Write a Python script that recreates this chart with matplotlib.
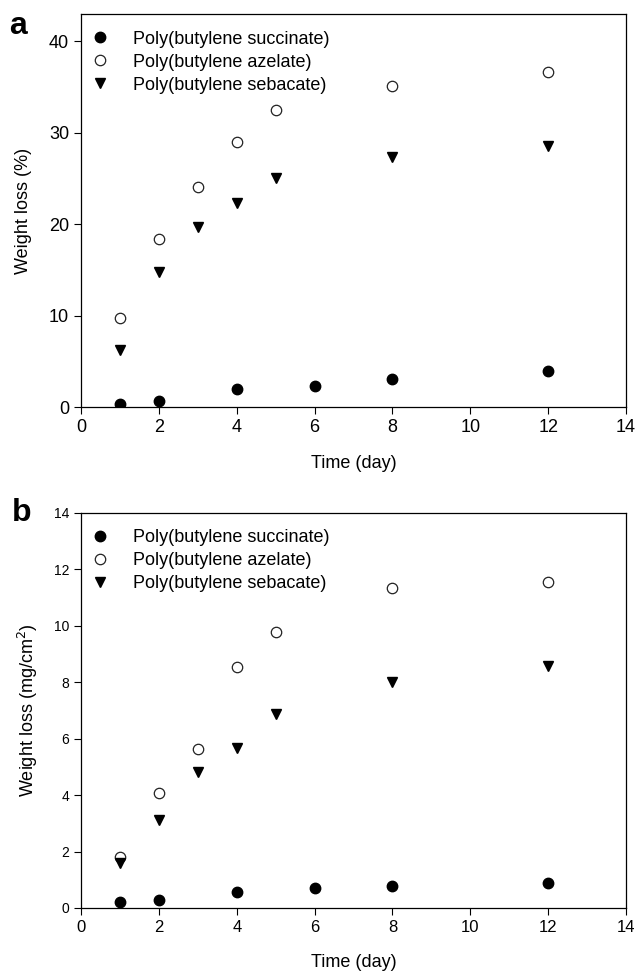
import matplotlib
matplotlib.use("Agg")
import matplotlib.pyplot as plt

plt.rcParams['font.family'] = ['Liberation Sans', 'DejaVu Sans']

series_names = ["Poly(butylene succinate)", "Poly(butylene azelate)",
                "Poly(butylene sebacate)"]

# sampling days
days_pbs = [1, 2, 4, 6, 8, 12]
days_other = [1, 2, 3, 4, 5, 8, 12]

# weight loss in percent
pct_pbs = [0.35, 0.65, 1.95, 2.25, 3.05, 3.9]
pct_pbaz = [9.7, 18.4, 24.1, 29.0, 32.5, 35.1, 36.7]
pct_pbse = [6.2, 14.8, 19.7, 22.3, 25.1, 27.4, 28.6]

# weight loss per unit area
mg_pbs = [0.21, 0.30, 0.57, 0.72, 0.77, 0.89]
mg_pbaz = [1.80, 4.07, 5.63, 8.54, 9.78, 11.34, 11.55]
mg_pbse = [1.60, 3.13, 4.82, 5.67, 6.88, 8.0, 8.58]

x_ticks = [0, 2, 4, 6, 8, 10, 12, 14]

fig = plt.figure(figsize=(6.36, 9.71), dpi=100)
ax1 = fig.add_axes([0.1274, 0.5808, 0.857, 0.4048])
ax2 = fig.add_axes([0.1274, 0.0649, 0.857, 0.4068])


def draw(ax, y_pbs, y_pbaz, y_pbse, anchor_y):
    ax.plot(days_pbs, y_pbs, 'o', ms=7.5, color='black', mec='black',
            label=series_names[0])
    ax.plot(days_other, y_pbaz, 'o', ms=7.5, mfc='white', mec='#222222',
            mew=0.9, label=series_names[1])
    ax.plot(days_other, y_pbse, 'v', ms=7.5, color='black',
            label=series_names[2])
    ax.set_xlim(0, 14)
    ax.set_xticks(x_ticks)
    ax.tick_params(direction='out', length=5, width=0.8)
    for s in ax.spines.values():
        s.set_linewidth(0.9)
    ax.set_xlabel("Time (day)", fontsize=13, labelpad=14)
    ax.legend(loc='upper left', bbox_to_anchor=(0.0, anchor_y),
              frameon=False, fontsize=13, handletextpad=1.4,
              labelspacing=0.33, borderaxespad=0.2, handlelength=0.9)


draw(ax1, pct_pbs, pct_pbaz, pct_pbse, 0.985)
ax1.set_ylim(0, 43)
ax1.set_yticks([0, 10, 20, 30, 40])
ax1.tick_params(labelsize=13)
ax1.set_ylabel("Weight loss (%)", fontsize=13, labelpad=12)

draw(ax2, mg_pbs, mg_pbaz, mg_pbse, 0.987)
ax2.set_ylim(0, 14)
ax2.set_yticks(range(0, 15, 2))
ax2.tick_params(axis='x', labelsize=12)
ax2.tick_params(axis='y', labelsize=10)
ax2.set_ylabel("Weight loss (mg/cm$^2$)", fontsize=13, labelpad=10)

fig.text(0.015, 0.965, "a", fontsize=23, fontweight='bold')
fig.text(0.018, 0.463, "b", fontsize=23, fontweight='bold')

fig.savefig("out.png", dpi=100)
